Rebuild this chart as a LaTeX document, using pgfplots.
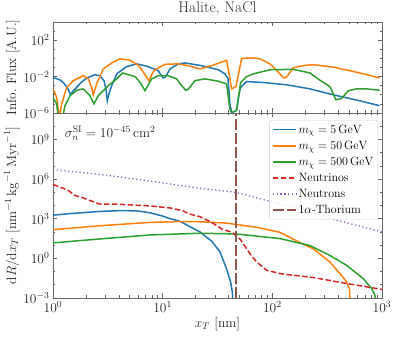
\RequirePackage{fix-cm}
\documentclass[border=0pt]{standalone}
\usepackage{fontspec}
\usepackage{pgfplots}
\pgfplotsset{compat=1.18}
\definecolor{cA}{HTML}{1F77B4}
\definecolor{cB}{HTML}{FF7F0E}
\definecolor{cC}{HTML}{2CA02C}
\definecolor{cD}{HTML}{D62728}
\definecolor{cE}{HTML}{9467BD}
\definecolor{cF}{HTML}{8C564B}
\newcommand{\fs}{\fontsize{13.5}{16}\selectfont}
\newcommand{\fl}{\fontsize{12}{14.4}\selectfont}
\begin{document}
\begin{tikzpicture}
\useasboundingbox (-53pt,-39pt) rectangle (346pt,298pt);
\pgfplotsset{
  every axis/.append style={
    font=\fs,
    scale only axis, width=329pt, xmode=log, ymode=log, xmin=1, xmax=1000,
    tick align=inside, major tick length=4.5pt, minor tick length=2.5pt,
    axis line style={black!60, line width=0.7pt},
    every tick/.append style={black!60, line width=0.6pt},
    tick label style={black!85, font=\fs}, label style={black!85, font=\fs},
    ylabel style={yshift=-3pt},
    xtick={1,10,100,1000},
    every axis plot/.append style={line width=1.5pt},
    legend image code/.code={\draw[#1] (0pt,0pt) -- (23pt,0pt);},
  }
}
% ---------------- bottom panel ----------------
\begin{axis}[
  name=bot, at={(0pt,0pt)}, anchor=south west, height=185pt,
  ymin=1e-3, ymax=1e11,
  ytick={1e-3,1,1e3,1e6,1e9},
  minor ytick={1e-2,1e-1,10,100,1e4,1e5,1e7,1e8,1e10,1e11},
  xlabel={$x_T$ [nm]},
  xlabel style={yshift=2pt},
  ylabel={$\mathrm{d}R/\mathrm{d}x_T\ [\mathrm{nm}^{-1}\,\mathrm{kg}^{-1}\,\mathrm{Myr}^{-1}]$},
  legend style={at={(0.988,0.962)}, anchor=north east, draw=black!20, rounded corners=2pt,
    fill=white, fill opacity=0.85, text opacity=1, font=\fl, row sep=2.2pt,
    inner sep=2.5pt},
  legend cell align=left,
]
\addplot[cA] coordinates {
(1.0,1862) (1.5,2512) (2.68,3548) (4.3,4169) (6.0,3802) (7.66,2818) (10,1585) (11.2,1122)
(14.4,631) (17.7,251) (21.87,100) (24.3,50.1) (28,20) (33.3,3.16) (38.3,0.158) (41.7,0.0158)
(43.3,2.51e-3) (43.6,1e-4)};
\addlegendentry{$m_\chi = 5\,\mathrm{GeV}$}
\addplot[cB] coordinates {
(1.0,148) (2.68,295) (7.66,525) (12.5,589) (21.87,589) (38,468) (71.9,224) (117.3,93.3)
(178.5,15.8) (236,5.25) (335,0.537) (413,0.0708) (476,0.0166) (505,5.01e-3) (515,1e-4)};
\addlegendentry{$m_\chi = 50\,\mathrm{GeV}$}
\addplot[cC] coordinates {
(1,14.8) (2.68,29.5) (7.66,58.9) (21.87,79.4) (46,70.8) (117,31.6) (220,9.33) (335,1.66)
(476,0.295) (674,0.0295) (804,5.25e-3) (861,1.66e-3) (890,1e-4)};
\addlegendentry{$m_\chi = 500\,\mathrm{GeV}$}
\addplot[cD, dash pattern=on 5.5pt off 2.4pt] coordinates {
(1,3.98e5) (1.15,2.51e5) (1.34,1.58e5) (1.6,5.62e4) (1.85,3.98e4) (2.3,2.0e4) (2.68,1.26e4)
(3.8,1.26e4) (7.66,9.33e3) (12,6.31e3) (15.3,3.98e3) (17.7,2.24e3) (22,1.41e3) (28,525)
(35,158) (43,93.3) (50.7,29.5) (62.5,2.24) (71.9,0.537) (88.7,0.126) (117.3,0.0708)
(134.9,0.0603) (236,0.0355) (476,0.0126) (1000,4.47e-3)};
\addlegendentry{Neutrinos}
\addplot[cE, line width=1.3pt, dash pattern=on 1.3pt off 2.5pt] coordinates {
(1,5.25e6) (2.68,2.24e6) (7.66,7.08e5) (21.87,2.0e5) (46,1e5) (178.5,5.25e3) (356,933) (1000,100)};
\addlegendentry{Neutrons}
\addplot[cF, dash pattern=on 11pt off 3pt] coordinates {(46.6,1e-3) (46.6,1e11)};
\addlegendentry{$1\alpha$-Thorium}
\node[anchor=west, black!85, font=\fs] at (rel axis cs:0.025,0.892) {$\sigma_n^{\mathrm{SI}} = 10^{-45}\,\mathrm{cm}^2$};
\end{axis}
% ---------------- top panel ----------------
\begin{axis}[
  at={(0pt,185pt)}, anchor=south west, height=91pt,
  ymin=1e-6, ymax=1e4,
  ytick={1e-6,1e-2,1e2},
  minor ytick={1e-5,1e-4,1e-3,1e-1,1,10,1e3,1e4},
  xticklabels=\empty,
  title={\fontsize{15.5}{18}\selectfont Halite, NaCl},
  title style={text=black!80, yshift=-3pt},
  ylabel={Info.\ Flux [A.U.]},
]
\addplot[cA] coordinates {
(1.0,7.94e-3) (1.15,4.47e-3) (1.24,2.24e-3) (1.35,6.31e-4) (1.45,1e-4) (1.53,2.82e-4)
(1.64,6.31e-4) (1.8,2.24e-3) (2.03,7.08e-3) (2.41,0.0158) (2.68,0.0126) (2.92,3.55e-3)
(3.05,3.16e-4) (3.13,2.24e-5) (3.25,1.58e-4) (3.43,1e-3) (3.81,0.02) (4.69,0.126)
(5.79,0.251) (7.15,0.141) (9.12,0.0447) (9.6,0.0158) (10.1,7.08e-3) (10.6,8.91e-3)
(11.66,0.0708) (13.88,0.251) (15.97,0.316) (22.67,0.158) (32.14,0.0562) (36.96,0.02)
(39.4,6.31e-3) (41.07,1e-5) (42.56,1.12e-6) (46,1.58e-6) (47.28,2.51e-6) (49.5,1e-4)
(51.4,6.31e-4) (58.3,2.82e-3) (82.6,2.24e-3) (134.9,1.26e-3) (220.3,4.47e-4) (359,1e-4)
(600,2.51e-5) (950,6.31e-6)};
\addplot[cB] coordinates {
(1.0,4.47e-4) (1.08,5.01e-5) (1.14,3.16e-7) (1.2,1e-5) (1.333,6.31e-4) (1.531,3.55e-3)
(1.889,0.0126) (2.099,5.62e-3) (2.252,6.31e-4) (2.33,1e-4) (2.50,1.58e-3) (2.874,0.0708)
(3.545,0.398) (4.08,0.891) (5.035,0.631) (5.99,0.178) (6.44,0.0562) (6.9,0.0158)
(7.5,3.55e-3) (8.0,0.02) (8.5,0.0562) (10.5,0.224) (13.88,0.251) (17.11,0.158)
(21.87,0.0708) (27.98,0.158) (38.3,0.631) (41.07,5.62e-3) (42.56,4.47e-4) (46.6,7.94e-4)
(52.5,1) (67,1.122) (77.1,0.891) (95.1,0.251) (113.2,0.0316) (127,7.08e-3) (135,8.91e-3)
(155,0.0891) (178.5,0.141) (205.4,0.178) (236,0.2) (359,0.112) (629,0.0251) (950,7.08e-3)};
\addplot[cC] coordinates {
(1.0,5.01e-5) (1.08,1e-5) (1.118,3.16e-7) (1.226,3.16e-7) (1.286,6.31e-6) (1.429,7.94e-5)
(1.644,3.16e-4) (1.889,4.47e-4) (2.174,7.94e-5) (2.364,1e-5) (2.588,7.94e-5) (3.192,1e-3)
(3.806,5.62e-3) (4.3,0.0251) (5.6,0.01) (6.2,2.51e-3) (6.9,2.82e-4) (7.94,5.62e-3)
(9.1,0.0126) (11.2,0.0126) (13.4,5.62e-3) (14.7,1.26e-3) (16.2,3.16e-4) (17.1,3.98e-4)
(19.7,3.55e-3) (24.3,5.62e-3) (32,3.16e-3) (38.3,1.58e-3) (41.07,2.51e-6) (42.56,1.12e-6)
(47.3,2.0e-6) (51.4,2.24e-3) (58.3,0.01) (67,0.02) (95.1,0.0562) (155,0.0631) (220,0.0251)
(272,3.98e-3) (335,7.94e-4) (380,2.82e-5) (428,3.98e-5) (492,2.82e-4) (586,4.47e-4)
(724,4.47e-4) (950,3.16e-4)};
\end{axis}
\end{tikzpicture}
\end{document}
